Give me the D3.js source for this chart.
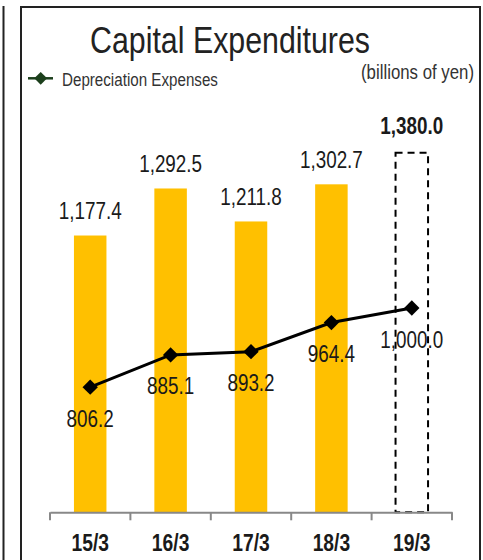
<!DOCTYPE html>
<html>
<head>
<meta charset="utf-8">
<script src="https://cdn.jsdelivr.net/npm/d3@7"></script>
<style>
  html, body { margin: 0; padding: 0; background: #fff; }
  svg { display: block; }
  text { font-family: "Liberation Sans", Arial, sans-serif; }
</style>
</head>
<body>
<svg id="chart" width="483" height="560"></svg>
<script>
// Fiscal years (year/month of fiscal year end)
const categories = ["15/3", "16/3", "17/3", "18/3", "19/3"];
// Capital expenditures, billions of yen (last year is the plan)
const capex = [1177.4, 1292.5, 1211.8, 1302.7, 1380.0];
const capexIsPlan = [false, false, false, false, true];
// Depreciation expenses, billions of yen
const depreciation = [806.2, 885.1, 893.2, 964.4, 1000.0];

const fmt = d3.format(",.1f");
const svg = d3.select("#chart");

// Narrow lettering: regular sans squeezed horizontally
const NARROW = 0.82;
const place = (x, y) => `translate(${x},${y}) scale(${NARROW},1)`;

// Panel frames
svg.append("line")
  .attr("x1", 3.5).attr("x2", 3.5).attr("y1", 6).attr("y2", 562)
  .attr("stroke", "#222").attr("stroke-width", 2);
svg.append("rect")
  .attr("x", 21).attr("y", 7).attr("width", 459).attr("height", 570)
  .attr("fill", "none").attr("stroke", "#222").attr("stroke-width", 2);

// Scales
const x = d3.scaleBand().domain(categories).range([50, 452]).padding(0);
const y = d3.scaleLinear().domain([500, 1500]).range([512.3, 103.7]);
const barW = 32.5;
const cx = c => x(c) + x.bandwidth() / 2;

// Title and notes
svg.append("text")
  .attr("transform", place(230, 53))
  .attr("text-anchor", "middle")
  .attr("font-size", 37).attr("fill", "#222")
  .text("Capital Expenditures");
svg.append("text")
  .attr("transform", place(474, 79))
  .attr("text-anchor", "end")
  .attr("font-size", 20.5).attr("fill", "#333")
  .text("(billions of yen)");

// Legend
const lg = svg.append("g");
lg.append("line")
  .attr("x1", 28).attr("x2", 53).attr("y1", 78.3).attr("y2", 78.3)
  .attr("stroke", "#1c3f1c").attr("stroke-width", 2.5);
lg.append("path")
  .attr("d", d3.symbol(d3.symbolDiamond2, 105)())
  .attr("transform", "translate(40.7,78.3)")
  .attr("fill", "#1c3f1c");
lg.append("text")
  .attr("transform", place(62, 85.5))
  .attr("font-size", 18.5).attr("fill", "#333")
  .text("Depreciation Expenses");

// Bars (actual results)
const rows = categories.map((c, i) => ({ c, v: capex[i], plan: capexIsPlan[i], d: depreciation[i] }));

svg.selectAll("rect.bar")
  .data(rows.filter(r => !r.plan))
  .join("rect")
  .attr("class", "bar")
  .attr("x", r => cx(r.c) - barW / 2)
  .attr("width", barW)
  .attr("y", r => y(r.v))
  .attr("height", r => y(500) - y(r.v))
  .attr("fill", "#FFC000");

// Planned capex drawn as a dashed outline
svg.selectAll("rect.plan")
  .data(rows.filter(r => r.plan))
  .join("rect")
  .attr("class", "plan")
  .attr("x", r => cx(r.c) - barW / 2)
  .attr("width", barW)
  .attr("y", r => y(r.v))
  .attr("height", r => y(500) - y(r.v))
  .attr("fill", "none")
  .attr("stroke", "#000")
  .attr("stroke-width", 2)
  .attr("stroke-dasharray", "7,5");

// Capex labels
svg.selectAll("text.capex")
  .data(rows)
  .join("text")
  .attr("class", "capex")
  .attr("transform", r => place(cx(r.c), y(r.v) - (r.plan ? 18.7 : 16.5)))
  .attr("text-anchor", "middle")
  .attr("font-size", 23)
  .attr("font-weight", r => r.plan ? "bold" : "normal")
  .attr("fill", "#1a1a1a")
  .text(r => fmt(r.v));

// X axis
const axis = svg.append("g")
  .attr("transform", `translate(0,${y(500)})`)
  .call(d3.axisBottom(x).tickSize(0).tickFormat(""));
axis.select(".domain").attr("stroke", "#888").attr("stroke-width", 2);
axis.selectAll(".tick").remove();
const edges = categories.map(c => x(c)).concat([x(categories[categories.length - 1]) + x.bandwidth()]);
axis.selectAll("line.sep")
  .data(edges)
  .join("line")
  .attr("class", "sep")
  .attr("x1", d => d).attr("x2", d => d)
  .attr("y1", 0).attr("y2", 8)
  .attr("stroke", "#888").attr("stroke-width", 2);
svg.append("g").selectAll("text")
  .data(categories)
  .join("text")
  .attr("transform", c => place(cx(c), 550.7))
  .attr("text-anchor", "middle")
  .attr("font-size", 23.5)
  .attr("font-weight", "bold")
  .attr("fill", "#1a1a1a")
  .text(c => c);

// Depreciation line
const line = d3.line().x(r => cx(r.c)).y(r => y(r.d));
svg.append("path")
  .datum(rows)
  .attr("d", line)
  .attr("fill", "none")
  .attr("stroke", "#000")
  .attr("stroke-width", 3);
svg.selectAll("path.pt")
  .data(rows)
  .join("path")
  .attr("class", "pt")
  .attr("d", d3.symbol(d3.symbolDiamond2, 150)())
  .attr("transform", r => `translate(${cx(r.c)},${y(r.d)})`)
  .attr("fill", "#000");

// Depreciation labels
svg.selectAll("text.dep")
  .data(rows)
  .join("text")
  .attr("class", "dep")
  .attr("transform", r => place(cx(r.c), y(r.d) + 39.5))
  .attr("text-anchor", "middle")
  .attr("font-size", 23)
  .attr("fill", "#1a1a1a")
  .text(r => fmt(r.d));
</script>
</body>
</html>
